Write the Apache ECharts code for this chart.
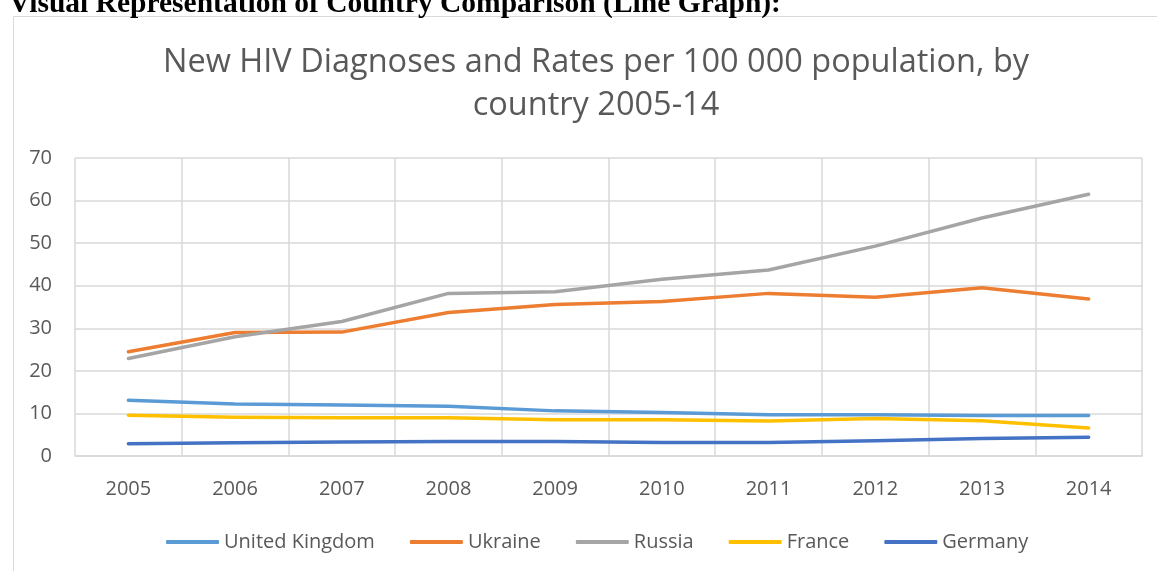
<!DOCTYPE html>
<html>
<head>
<meta charset="utf-8">
<script src="https://cdn.jsdelivr.net/npm/echarts@6/dist/echarts.min.js"></script>
<style>
html,body{margin:0;padding:0;background:#fff;}
#chart{width:1157px;height:571px;}
</style>
</head>
<body>
<div id="chart"></div>
<script>
var years = ['2005','2006','2007','2008','2009','2010','2011','2012','2013','2014'];
var unitedKingdom = [13.1, 12.2, 12.0, 11.7, 10.6, 10.2, 9.7, 9.7, 9.5, 9.5];
var ukraine = [24.5, 29.0, 29.1, 33.7, 35.6, 36.3, 38.2, 37.3, 39.5, 36.9];
var russia = [22.9, 28.0, 31.6, 38.2, 38.6, 41.5, 43.7, 49.3, 55.9, 61.5];
var france = [9.6, 9.1, 9.0, 9.0, 8.5, 8.5, 8.2, 8.8, 8.3, 6.6];
var germany = [2.9, 3.1, 3.3, 3.4, 3.4, 3.2, 3.2, 3.6, 4.1, 4.4];
var seriesNames = ['United Kingdom','Ukraine','Russia','France','Germany'];
var colors = ['#5B9BD5','#ED7D31','#A5A5A5','#FFC000','#4472C4'];
var heading = 'Visual Representation of Country Comparison (Line Graph):';
var titleText = 'New HIV Diagnoses and Rates per 100 000 population, by\ncountry 2005-14';

var chart = echarts.init(document.getElementById('chart'), null, {renderer:'canvas'});
var dataSets = [unitedKingdom, ukraine, russia, france, germany];
var font = 'Open Sans';
var option = {
  animation: false,
  color: colors,
  graphic: [
    {type:'rect', left:11, top:14, shape:{width:1160, height:570}, style:{fill:'none', stroke:'#D9D9D9', lineWidth:1}, z:-1},
    {type:'text', left:9, top:-11, style:{text:heading, font:'bold 29.5px "Liberation Serif"', fill:'#000'}}
  ],
  title: {
    text: titleText,
    left: 591,
    top: 36,
    textAlign: 'center',
    textStyle: {fontFamily: font, fontWeight:'normal', fontSize: 32.5, color:'#595959', lineHeight: 43}
  },
  legend: {
    data: seriesNames,
    left: 161,
    top: 527,
    icon: 'roundRect',
    itemWidth: 53,
    itemHeight: 4,
    itemGap: 35,
    textStyle: {fontFamily: font, fontSize: 20, color:'#595959'}
  },
  grid: {left:75, right:15, top:158, bottom:115, containLabel:false},
  xAxis: {
    type:'category',
    data: years,
    boundaryGap: true,
    axisLine: {lineStyle:{color:'#D9D9D9', width:1.5}},
    axisTick: {show:false},
    axisLabel: {fontFamily: font, fontSize:20, color:'#595959', margin:23},
    splitLine: {show:true, lineStyle:{color:'#D9D9D9', width:1.5}}
  },
  yAxis: {
    type:'value',
    min:0, max:70, interval:10,
    axisLine: {show:false},
    axisTick: {show:false},
    axisLabel: {fontFamily: font, fontSize:20, color:'#595959', margin:23},
    splitLine: {show:true, lineStyle:{color:'#D9D9D9', width:1.5}}
  },
  series: seriesNames.map(function(n, i){
    return {
      name: n,
      type: 'line',
      data: dataSets[i],
      symbol: 'none',
      smooth: false,
      lineStyle: {width:3.5, color: colors[i], cap:'round', join:'round'},
      itemStyle: {color: colors[i]}
    };
  })
};
chart.setOption(option);
</script>
</body>
</html>
